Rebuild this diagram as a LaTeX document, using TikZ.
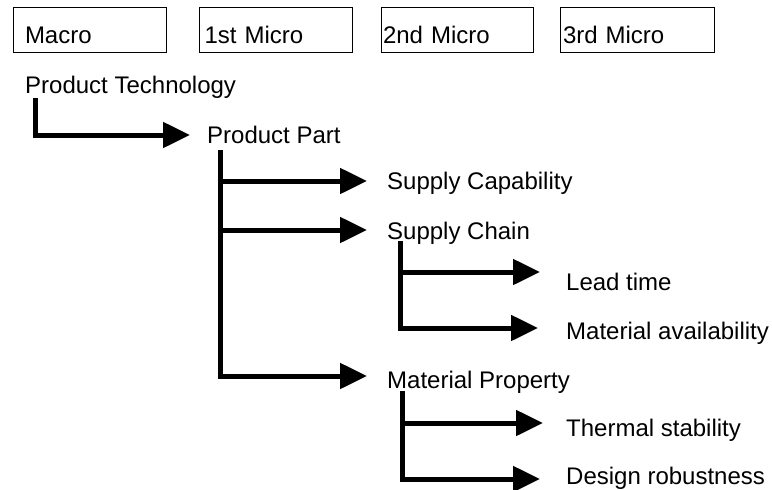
\documentclass[tikz,border=0pt]{standalone}
\usepackage{fontspec}
\setmainfont{Liberation Sans}
\usetikzlibrary{arrows.meta,calc}
\begin{document}
\begin{tikzpicture}[x=1pt,y=-1pt,
  every node/.style={font=\fontsize{24}{28}\selectfont, inner sep=0pt},
  level/.style={draw, line width=1pt, minimum height=45pt, text height=28pt, text depth=0pt, align=left},
  item/.style={anchor=base west},
  conn/.style={line width=5pt, -{Triangle[length=27pt,width=25pt]}}
]
\useasboundingbox (0,0) rectangle (772,490);

% level headers
\node[level, text width=129pt, inner xsep=12pt] (macro) at (89.5,29.5) {Macro};
\node[level, text width=143pt, inner xsep=5pt]  (mic1)  at (276,29.5) {1st Micro};
\node[level, text width=148pt, inner xsep=2pt]  (mic2)  at (457,29.5) {2nd Micro};
\node[level, text width=148pt, inner xsep=3pt]  (mic3)  at (637,29.5) {3rd Micro};

% tree items
\node[item] (pt)  at (25,93)   {Product Technology};
\node[item] (pp)  at (207,143) {Product Part};
\node[item] (sc)  at (387,189) {Supply Capability};
\node[item] (sch) at (387,239) {Supply Chain};
\node[item] (lt)  at (566,290) {Lead time};
\node[item] (ma)  at (566,339) {Material availability};
\node[item] (mp)  at (387,388) {Material Property};
\node[item] (ts)  at (566,436) {Thermal stability};
\node[item] (dr)  at (566,484) {Design robustness};

% connectors
\draw[conn] ($(pt.base west)+(10,5)$) |- ($(pp.base west)+(-17,-8)$);

\draw[conn] ($(pp.base west)+(13,7)$) |- ($(sc.base west)+(-20,-8)$);
\draw[conn] ($(pp.base west)+(13,7)$) |- ($(sch.base west)+(-20,-9)$);
\draw[conn] ($(pp.base west)+(13,7)$) |- ($(mp.base west)+(-20,-12)$);

\draw[conn] ($(sch.base west)+(13,2)$) |- ($(lt.base west)+(-26,-18)$);
\draw[conn] ($(sch.base west)+(13,2)$) |- ($(ma.base west)+(-28,-11)$);

\draw[conn] ($(mp.base west)+(15,3)$) |- ($(ts.base west)+(-23,-13)$);
\draw[conn] ($(mp.base west)+(15,3)$) |- ($(dr.base west)+(-26,-5)$);
\end{tikzpicture}
\end{document}
